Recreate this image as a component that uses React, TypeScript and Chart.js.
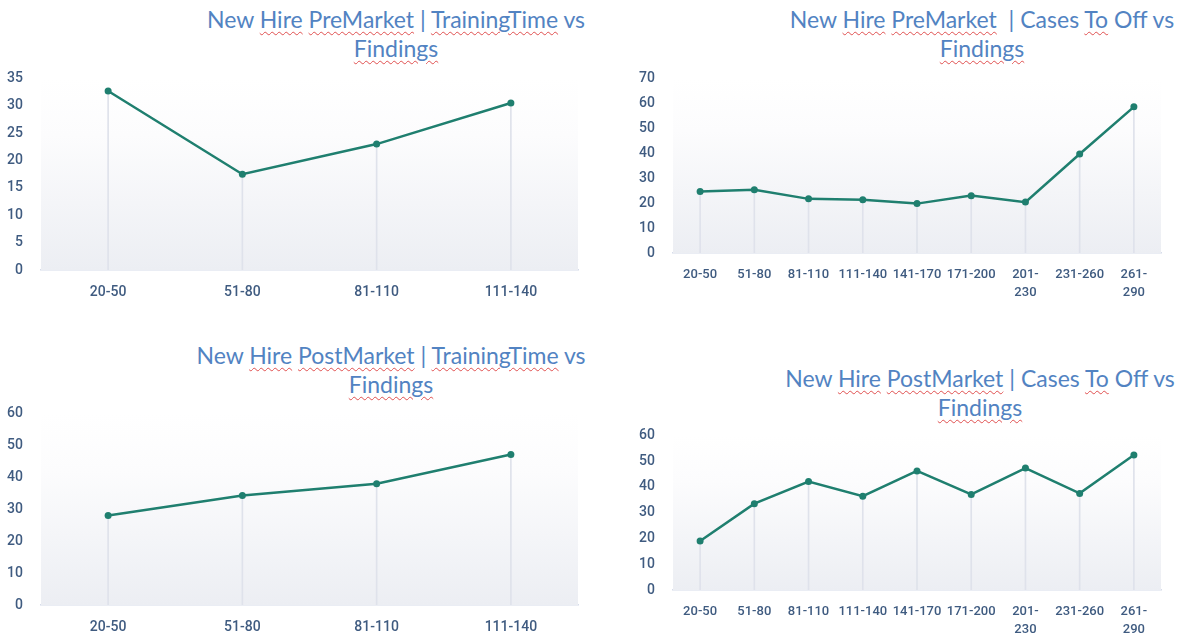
import React, { useEffect, useRef } from "react";
import { Chart, registerables } from "chart.js";

Chart.register(...registerables);

// ---- data ----
const trainingCategories: (string | string[])[] = ["20-50", "51-80", "81-110", "111-140"];
const casesCategories: (string | string[])[] = [
  "20-50", "51-80", "81-110", "111-140", "141-170", "171-200", ["201-", "230"], "231-260", ["261-", "290"],
];
const preTrainingValues = [32.7, 17.5, 23.0, 30.5];
const preCasesValues = [24.7, 25.4, 21.7, 21.3, 19.8, 23.0, 20.4, 39.7, 58.6];
const postTrainingValues = [28.0, 34.3, 38.0, 47.1];
const postCasesValues = [19.0, 33.5, 42.1, 36.4, 46.2, 37.1, 47.3, 37.5, 52.4];

const preTrainingTicks = { max: 35, step: 5 };
const preCasesTicks = { max: 70, step: 10 };
const postTrainingTicks = { max: 60, step: 10 };
const postCasesTicks = { max: 60, step: 10 };

const LINE = "#1f7f6f";
const TICK = "#3f5b80";
const TITLE = "#5283c2";

const bgPlugin = {
  id: "plotBg",
  beforeDatasetsDraw(chart: any) {
    const { ctx, chartArea } = chart;
    if (!chartArea) return;
    const g = ctx.createLinearGradient(0, chartArea.top, 0, chartArea.bottom);
    g.addColorStop(0, "rgba(255,255,255,1)");
    g.addColorStop(0.3, "rgba(252,252,253,1)");
    g.addColorStop(1, "rgba(236,238,243,1)");
    ctx.save();
    ctx.fillStyle = g;
    ctx.fillRect(chartArea.left, chartArea.top, chartArea.right - chartArea.left, chartArea.bottom - chartArea.top);
    ctx.restore();
  },
};

type PanelProps = {
  left: number;
  top: number;
  width: number;
  height: number;
  yAxisWidth: number;
  xAxisHeight: number;
  padTop: number;
  padRight: number;
  xFont: number;
  labels: (string | string[])[];
  values: number[];
  yMax: number;
  yStep: number;
};

function Panel(p: PanelProps) {
  const ref = useRef<HTMLCanvasElement | null>(null);
  useEffect(() => {
    if (!ref.current) return;
    const chart = new Chart(ref.current, {
      type: "line",
      data: {
        labels: p.labels as any,
        datasets: [
          {
            type: "line",
            data: p.values,
            borderColor: LINE,
            backgroundColor: LINE,
            borderWidth: 2.5,
            pointRadius: 3.5,
            pointBackgroundColor: LINE,
            pointBorderWidth: 0,
            tension: 0,
            order: 0,
          } as any,
          {
            type: "bar",
            data: p.values,
            backgroundColor: "#dfe2eb",
            barThickness: 1,
            order: 1,
          } as any,
        ],
      },
      options: {
        responsive: false,
        animation: false,
        layout: { padding: { top: p.padTop, right: p.padRight, left: 0, bottom: 0 } },
        plugins: { legend: { display: false }, tooltip: { enabled: false }, title: { display: false } },
        scales: {
          x: {
            offset: true,
            grid: { display: false },
            border: { display: true, color: "#d6dcea", width: 1.5 },
            ticks: {
              color: TICK,
              font: { family: "Roboto", size: p.xFont, weight: 500, lineHeight: 1.35 },
              maxRotation: 0,
              minRotation: 0,
              autoSkip: false,
              padding: 5,
            },
            afterFit: (s: any) => {
              s.height = p.xAxisHeight;
            },
          },
          y: {
            min: 0,
            max: p.yMax,
            grid: { display: false },
            border: { display: false },
            ticks: {
              stepSize: p.yStep,
              color: TICK,
              font: { family: "Roboto", size: 14, weight: 500 },
              padding: 10,
            },
            afterFit: (s: any) => {
              s.width = p.yAxisWidth;
            },
          },
        },
      },
      plugins: [bgPlugin],
    });
    return () => chart.destroy();
  }, []);
  return (
    <canvas
      ref={ref}
      width={p.width}
      height={p.height}
      style={{ position: "absolute", left: p.left, top: p.top, width: p.width, height: p.height }}
    />
  );
}

const wavy: React.CSSProperties = {
  textDecorationLine: "underline",
  textDecorationStyle: "wavy",
  textDecorationColor: "#e05050",
  textDecorationThickness: "1px",
  textUnderlineOffset: "3px",
};

function W({ children }: { children: React.ReactNode }) {
  return <span style={wavy}>{children}</span>;
}

function Title({ cx, top, children }: { cx: number; top: number; children: React.ReactNode }) {
  return (
    <div
      style={{
        position: "absolute",
        left: cx - 260,
        top,
        width: 520,
        textAlign: "center",
        fontFamily: "Lato, 'Open Sans', sans-serif",
        fontSize: 23,
        lineHeight: "29px",
        color: TITLE,
        whiteSpace: "pre",
      }}
    >
      {children}
    </div>
  );
}

export default function App() {
  return (
    <div style={{ position: "fixed", left: 0, top: 0, width: 1186, height: 637, background: "#fff", overflow: "hidden" }}>
      <Title cx={396} top={5}>
        New <W>Hire</W> <W>PreMarket</W> | <W>TrainingTime</W> vs
        <br />
        <W>Findings</W>
      </Title>
      <Title cx={982} top={5}>
        New <W>Hire</W> <W>PreMarket</W>{"  "}| Cases <W>To</W> Off vs
        <br />
        <W>Findings</W>
      </Title>
      <Title cx={391} top={341}>
        New <W>Hire</W> <W>PostMarket</W> | <W>TrainingTime</W> vs
        <br />
        <W>Findings</W>
      </Title>
      <Title cx={980} top={364}>
        New <W>Hire</W> <W>PostMarket</W> | Cases <W>To</W> Off vs
        <br />
        <W>Findings</W>
      </Title>

      <Panel left={0} top={60} width={590} height={240} yAxisWidth={41} xAxisHeight={30} padTop={15} padRight={12} xFont={14}
        labels={trainingCategories} values={preTrainingValues} yMax={preTrainingTicks.max} yStep={preTrainingTicks.step} />
      <Panel left={610} top={60} width={576} height={243} yAxisWidth={63} xAxisHeight={50} padTop={15} padRight={25} xFont={13}
        labels={casesCategories} values={preCasesValues} yMax={preCasesTicks.max} yStep={preCasesTicks.step} />
      <Panel left={0} top={395} width={590} height={240} yAxisWidth={41} xAxisHeight={30} padTop={15} padRight={12} xFont={14}
        labels={trainingCategories} values={postTrainingValues} yMax={postTrainingTicks.max} yStep={postTrainingTicks.step} />
      <Panel left={610} top={417} width={576} height={220} yAxisWidth={63} xAxisHeight={47} padTop={15} padRight={25} xFont={13}
        labels={casesCategories} values={postCasesValues} yMax={postCasesTicks.max} yStep={postCasesTicks.step} />
    </div>
  );
}
